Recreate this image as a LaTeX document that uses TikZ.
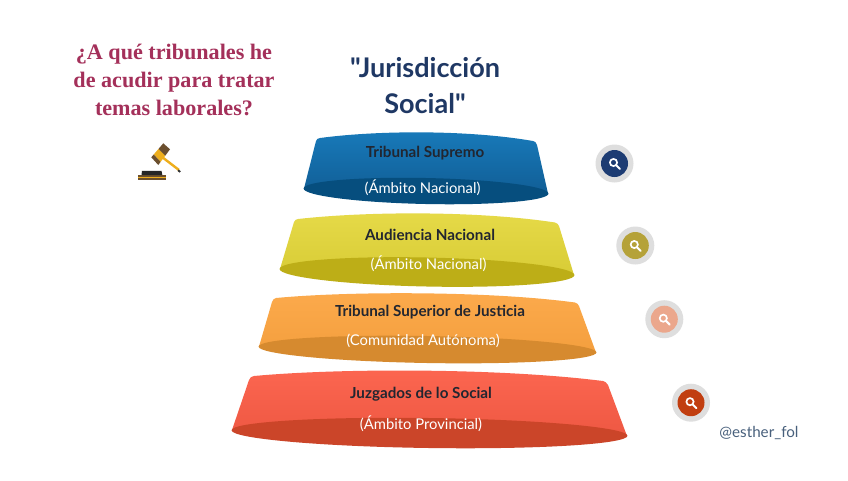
\documentclass[tikz,border=0pt]{standalone}
\usepackage{fontspec}
\usetikzlibrary{calc}
\setmainfont{Lato}
\newfontfamily\titlefont{Lato}
\newfontfamily\serifq{Liberation Serif}
\definecolor{qred}{HTML}{A4305A}
\definecolor{navy}{HTML}{1F3864}
\definecolor{ink}{HTML}{222630}
\definecolor{handle}{HTML}{EEAE1C}
\definecolor{wood}{HTML}{6B4F2E}
\definecolor{tagc}{HTML}{48607C}
\definecolor{ringc}{HTML}{DEDEDE}
\definecolor{blueT}{HTML}{187ABA}\definecolor{blueB}{HTML}{115E96}\definecolor{blueE}{HTML}{064E7E}
\definecolor{yelT}{HTML}{E6DA48}\definecolor{yelB}{HTML}{D8CC36}\definecolor{yelE}{HTML}{BDAE17}
\definecolor{oraT}{HTML}{FCAA4C}\definecolor{oraB}{HTML}{F49F3E}\definecolor{oraE}{HTML}{D68A2F}
\definecolor{redT}{HTML}{FC6650}\definecolor{redB}{HTML}{EE5843}\definecolor{redE}{HTML}{CB4529}
\definecolor{disc1}{HTML}{1D3C73}\definecolor{disc2}{HTML}{B5A239}\definecolor{disc3}{HTML}{EBA78C}\definecolor{disc4}{HTML}{C13E10}
\tikzset{
  x=0.75pt,y=-0.75pt,
  ring/.style={circle,fill=ringc,minimum size=28.5pt,inner sep=0pt},
  disc/.style={circle,minimum size=20.25pt,inner sep=0pt},
  head/.style={font=\fontsize{11.4pt}{12pt}\selectfont\bfseries,text=ink},
  sub/.style={font=\fontsize{11.1pt}{12pt}\selectfont,text=white},
  quest/.style={font=\fontsize{16.6pt}{21pt}\selectfont\serifq\bfseries,text=qred,align=center},
  titlet/.style={font=\fontsize{20.3pt}{27pt}\selectfont\titlefont\bfseries,text=navy,align=center},
}
\newcommand{\lensicon}[1]{%
  \draw[white,line width=1.25pt] ($(#1)+(-1,-1)$) circle[radius=3.6];
  \draw[white,line width=1.5pt,line cap=round] ($(#1)+(1.8,1.8)$) -- ($(#1)+(5.4,5.4)$);
}
\begin{document}
\begin{tikzpicture}
\useasboundingbox (0,0) rectangle (848,480);
\fill[white] (0,0) rectangle (848,480);

% band 1
\shade[top color=blueT,bottom color=blueB]
  (304,188.5) -- (316,141) .. controls (316.5,139) and (318,138.3) .. (320,138)
  .. controls (380,130) and (470,130) .. (533,141) .. controls (535,141.5) and (536,142) .. (537,145)
  -- (548,193.5) -- cycle;
\fill[blueE,rotate around={-1.2:(426,191)}] (426,191) ellipse[x radius=122.5,y radius=13];

% band 2
\shade[top color=yelT,bottom color=yelB]
  (280,269) -- (294,222) .. controls (295,220) and (296,219.3) .. (298,219)
  .. controls (370,211) and (480,211) .. (555,222.5) .. controls (557,223) and (558,224) .. (559,226)
  -- (574,275) -- cycle;
\fill[yelE,rotate around={-1.2:(427,272)}] (427,272) ellipse[x radius=147.5,y radius=14.5];

% band 3
\shade[top color=oraT,bottom color=oraB]
  (259,346.5) -- (272,302) .. controls (273,299.5) and (274,298.3) .. (276,298)
  .. controls (350,291) and (490,291) .. (575,302.5) .. controls (577,303) and (578,304) .. (579,306)
  -- (596,352.5) -- cycle;
\fill[oraE,rotate around={-1:(427.5,349.5)}] (427.5,349.5) ellipse[x radius=169,y radius=13.5];

% band 4
\shade[top color=redT,bottom color=redB]
  (232,430) -- (249,380) .. controls (250,377.5) and (251.5,376.3) .. (254,376)
  .. controls (340,368) and (500,368) .. (603,381) .. controls (605,381.5) and (606.5,382.5) .. (608,385)
  -- (627,436) -- cycle;
\fill[redE,rotate around={-0.8:(429.5,433)}] (429.5,433) ellipse[x radius=198,y radius=15];

% labels
\node[quest] (q) at (174,80) {¿A qué tribunales he\\de acudir para tratar\\temas laborales?};
\node[titlet] (title) at (425,86) {"Jurisdicción\\Social"};
\node[head] (n1) at (425,153) {Tribunal Supremo};
\node[sub]  (s1) at (422.5,188) {(Ámbito Nacional)};
\node[head] (n2) at (430,235) {Audiencia Nacional};
\node[sub]  (s2) at (428.5,264) {(Ámbito Nacional)};
\node[head] (n3) at (430,312) {Tribunal Superior de Justicia};
\node[sub]  (s3) at (423,341) {(Comunidad Autónoma)};
\node[head] (n4) at (421,394) {Juzgados de lo Social};
\node[sub]  (s4) at (421,424) {(Ámbito Provincial)};
\node[font=\fontsize{11.4pt}{12pt}\selectfont,text=tagc] (tag) at (759,433) {@esther\_fol};

% search buttons
\node[ring] (r1) at (614.5,163.5) {};
\node[disc,fill=disc1] (d1) at (r1) {};
\lensicon{d1}
\node[ring] (r2) at (635.3,245.5) {};
\node[disc,fill=disc2] (d2) at (r2) {};
\lensicon{d2}
\node[ring] (r3) at (664.3,319.2) {};
\node[disc,fill=disc3] (d3) at (r3) {};
\lensicon{d3}
\node[ring] (r4) at (691,402.7) {};
\node[disc,fill=disc4] (d4) at (r4) {};
\lensicon{d4}

% gavel
\fill[wood] (138,174.8) rectangle (166,180);
\fill[handle] (138,176.6) rectangle (166,178);
\fill[black!85] (142,170.8) -- (161.5,170.8) -- (162.3,175) -- (141.5,175) -- cycle;
\draw[handle,line width=1.8pt] (162,157) -- (179,170);
\fill[black!80] (178.5,169.5) -- (180.8,171.2) -- (179.5,172.5) -- (177.5,171) -- cycle;
\fill[handle] (153.7,154.5) -- (158.5,148.9) -- (165.3,155.6) -- (160.6,161.9) -- cycle;
\fill[wood] (163.3,143.3) -- (170,149.3) -- (165.3,155.6) -- (158.5,148.9) -- cycle;
\fill[wood] (151.3,157.3) -- (153.7,154.5) -- (160.6,161.9) -- (158.3,165) -- cycle;
\end{tikzpicture}
\end{document}
